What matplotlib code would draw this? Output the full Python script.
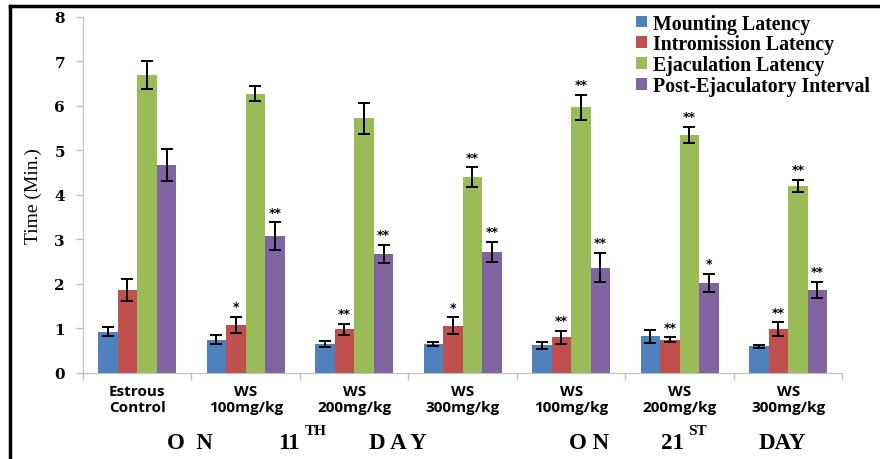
import numpy as np
import matplotlib
matplotlib.use('Agg')
import matplotlib.pyplot as plt
from matplotlib.lines import Line2D

groups = ['Estrous\nControl', 'WS\n100mg/kg', 'WS\n200mg/kg', 'WS\n300mg/kg',
          'WS\n100mg/kg', 'WS\n200mg/kg', 'WS\n300mg/kg']
series = ['Mounting Latency', 'Intromission Latency', 'Ejaculation Latency',
          'Post-Ejaculatory Interval']

mounting = [0.93, 0.75, 0.65, 0.65, 0.62, 0.82, 0.60]
mounting_err = [0.10, 0.11, 0.07, 0.05, 0.08, 0.15, 0.03]
intromission = [1.87, 1.08, 0.98, 1.06, 0.80, 0.75, 0.98]
intromission_err = [0.25, 0.18, 0.13, 0.19, 0.15, 0.05, 0.16]
ejaculation = [6.70, 6.27, 5.72, 4.40, 5.97, 5.35, 4.20]
ejaculation_err = [0.32, 0.17, 0.34, 0.22, 0.28, 0.18, 0.14]
post_ejac = [4.67, 3.08, 2.67, 2.72, 2.37, 2.03, 1.87]
post_ejac_err = [0.36, 0.31, 0.21, 0.23, 0.33, 0.20, 0.18]

mounting_sig = ['', '', '', '', '', '', '']
intromission_sig = ['', '*', '**', '*', '**', '**', '**']
ejaculation_sig = ['', '', '', '**', '**', '**', '**']
post_ejac_sig = ['', '**', '**', '**', '**', '*', '**']

colors = ['#4F81BD', '#C0504D', '#9BBB59', '#8064A2']

values = [mounting, intromission, ejaculation, post_ejac]
errors = [mounting_err, intromission_err, ejaculation_err, post_ejac_err]
sigs = [mounting_sig, intromission_sig, ejaculation_sig, post_ejac_sig]

fig = plt.figure(figsize=(8.8, 4.6), dpi=100)
ax = fig.add_axes([0.0943, 0.187, 0.863, 0.774])

x = np.arange(len(groups))
w = 0.18
for i in range(4):
    pos = x + (i - 1.5) * w
    ax.bar(pos, values[i], w, color=colors[i], label=series[i], zorder=2)
    ax.errorbar(pos, values[i], yerr=errors[i], fmt='none', ecolor='black',
                elinewidth=1.4, capsize=4, capthick=1.4, zorder=3)
    for p, v, e, s in zip(pos, values[i], errors[i], sigs[i]):
        if s:
            ax.text(p, v + e + 0.08, s, ha='center', va='bottom',
                    fontsize=9, fontweight='bold')

ax.set_xlim(-0.5, len(groups) - 0.5)
ax.set_ylim(0, 8)
ax.set_yticks(range(0, 9))
ax.set_yticklabels([str(v) for v in range(0, 9)], fontsize=11,
                   fontweight='bold', family='DejaVu Serif')
ax.set_xticks(x)
ax.set_xticklabels(groups, fontsize=11, fontweight='bold', family='Open Sans',
                   linespacing=1.15)
ax.tick_params(axis='x', length=0, pad=8)
ax.set_xticks(np.arange(-0.5, len(groups)), minor=True)
ax.tick_params(axis='x', which='minor', length=5, color='#BFBFBF', width=1)
ax.tick_params(axis='y', length=5, color='#BFBFBF', width=1, pad=8)
for side in ['top', 'right']:
    ax.spines[side].set_visible(False)
for side in ['left', 'bottom']:
    ax.spines[side].set_color('#BFBFBF')
ax.set_ylabel('Time (Min.)', family='Liberation Serif', fontsize=14, labelpad=9)

ax.legend(loc='upper left', bbox_to_anchor=(0.712, 0.99),
          bbox_transform=fig.transFigure, frameon=False, borderpad=0,
          handlelength=0.55, handleheight=0.55, handletextpad=0.3,
          labelspacing=0.04,
          prop={'family': 'Liberation Serif', 'weight': 'bold', 'size': 14.3})

# day annotations under the axis
bottom_font = dict(family='Liberation Serif', fontweight='bold', fontsize=16.5,
                   va='center')
sup_font = dict(family='Liberation Serif', fontweight='bold', fontsize=11,
                va='center', ha='left')
yb = 1 - 444 / 460
fig.text(190 / 880, yb, 'O  N', ha='center', **bottom_font)
fig.text(289 / 880, yb, '11', ha='center', **bottom_font)
fig.text(305 / 880, yb + 0.028, 'TH', **sup_font)
fig.text(398 / 880, yb, 'D A Y', ha='center', **bottom_font)
fig.text(589 / 880, yb, 'O N', ha='center', **bottom_font)
fig.text(672 / 880, yb, '21', ha='center', **bottom_font)
fig.text(688 / 880, yb + 0.028, 'ST', **sup_font)
fig.text(782 / 880, yb, 'DAY', ha='center', **bottom_font)

# frame lines
fig.add_artist(Line2D([10 / 880, 10 / 880], [0, 1 - 7 / 460], color='black',
                      lw=2.5, transform=fig.transFigure))
fig.add_artist(Line2D([10 / 880, 1], [1 - 7 / 460, 1 - 7 / 460], color='black',
                      lw=2.5, transform=fig.transFigure))

fig.savefig('out.png', dpi=100)
